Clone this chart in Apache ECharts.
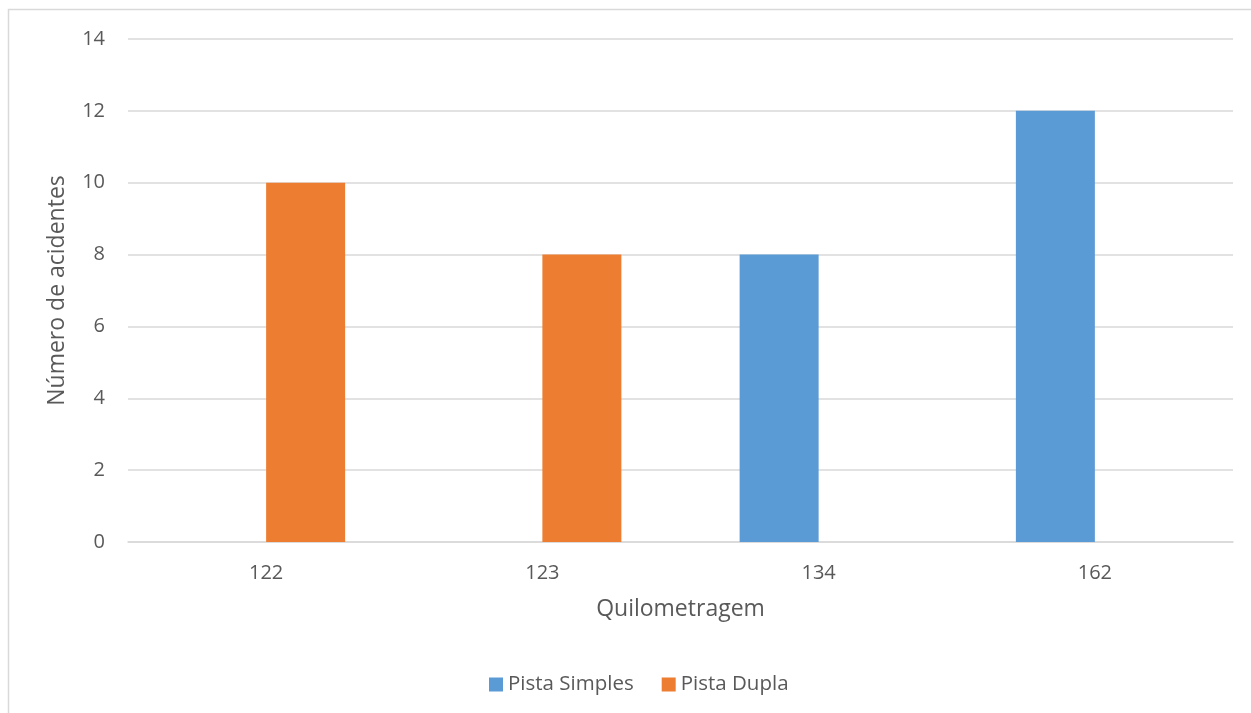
<!DOCTYPE html>
<html>
<head>
<meta charset="utf-8">
<script src="https://cdn.jsdelivr.net/npm/echarts@6/dist/echarts.min.js"></script>
<style>
html,body{margin:0;padding:0;background:#fff;}
#c{width:1251px;height:713px;}
</style>
</head>
<body>
<div id="c"></div>
<script>
var categories = ['122', '123', '134', '162'];
var pistaSimples = [0, 0, 8, 12];
var pistaDupla = [10, 8, 0, 0];
var seriesNames = ['Pista Simples', 'Pista Dupla'];
var xTitle = 'Quilometragem';
var yTitle = 'Número de acidentes';

var FONT = '"Open Sans", sans-serif';
var TXT = '#595959';
var chart = echarts.init(document.getElementById('c'));
chart.setOption({
  animation: false,
  backgroundColor: '#fff',
  graphic: [{
    type: 'rect',
    shape: { x: 8.5, y: 9.5, width: 1300, height: 800 },
    style: { fill: 'none', stroke: '#d9d9d9', lineWidth: 1.5 },
    silent: true
  }],
  grid: { left: 128, right: 18, top: 39, bottom: 171 },
  legend: {
    data: seriesNames,
    bottom: 13,
    left: 484,
    itemWidth: 14,
    itemHeight: 14,
    itemGap: 28,
    icon: 'rect',
    textStyle: { color: TXT, fontFamily: FONT, fontSize: 20.5 }
  },
  xAxis: {
    type: 'category',
    data: categories,
    name: xTitle,
    nameLocation: 'middle',
    nameGap: 56,
    nameTextStyle: { color: TXT, fontFamily: FONT, fontSize: 23 },
    axisLine: { lineStyle: { color: '#d9d9d9', width: 1.5 } },
    axisTick: { show: false },
    axisLabel: { color: TXT, fontFamily: FONT, fontSize: 20, margin: 21 }
  },
  yAxis: {
    type: 'value',
    min: 0, max: 14, interval: 2,
    name: yTitle,
    nameLocation: 'middle',
    nameGap: 59,
    nameRotate: 90,
    nameTextStyle: { color: TXT, fontFamily: FONT, fontSize: 23 },
    axisLine: { show: false },
    axisTick: { show: false },
    axisLabel: { color: TXT, fontFamily: FONT, fontSize: 20, margin: 23 },
    splitLine: { lineStyle: { color: '#d9d9d9', width: 1.5 } }
  },
  series: [
    { name: seriesNames[0], type: 'bar', data: pistaSimples, barWidth: 79, barGap: '0%',
      itemStyle: { color: '#5B9BD5' } },
    { name: seriesNames[1], type: 'bar', data: pistaDupla, barWidth: 79, barGap: '0%',
      itemStyle: { color: '#ED7D31' } }
  ]
});
</script>
</body>
</html>
